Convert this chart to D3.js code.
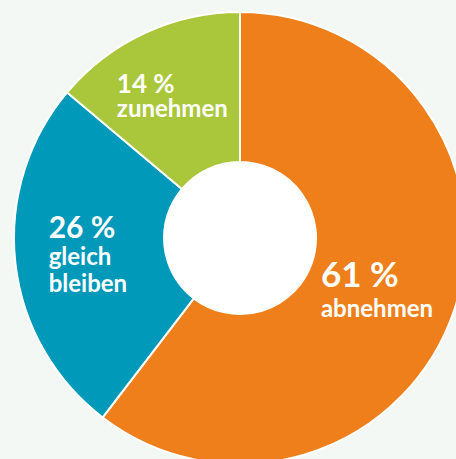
<!DOCTYPE html>
<html lang="de">
<head>
    <meta charset="UTF-8">
    <title>Donut</title>
    <style>
        html, body { margin: 0; padding: 0; background: #f4f8f5; }
        svg { display: block; }
        text { font-family: Lato, "Open Sans", sans-serif; font-weight: 700; fill: #fff; }
    </style>
</head>
<body>
    <div id="chart"></div>

    <script src="https://d3js.org/d3.v7.min.js"></script>
    <script>
        const categories = ["abnehmen", "gleich bleiben", "zunehmen"];
        const values = [61, 26, 14];
        const labelLines = [["abnehmen"], ["gleich", "bleiben"], ["zunehmen"]];
        const colors = ["#ee7f1a", "#0099b9", "#aac63a"];

        const width = 456, height = 459;
        const cx = 240, cy = 238;
        const outerR = 226, innerR = 76;

        // label styling
        const pctSizes = [35, 30, 26];
        const labelNudge = [[-6, 1], [-2, -2], [-4, -7]];

        const svg = d3.select("#chart").append("svg")
            .attr("width", width)
            .attr("height", height);

        const g = svg.append("g").attr("transform", `translate(${cx}, ${cy})`);

        const pie = d3.pie().sort(null).value(d => d);
        const arc = d3.arc().innerRadius(innerR).outerRadius(outerR);

        const arcs = pie(values);

        g.selectAll("path")
            .data(arcs)
            .enter()
            .append("path")
            .attr("d", arc)
            .attr("fill", (d, i) => colors[i])
            .attr("stroke", "#fff")
            .attr("stroke-width", 2);

        // white hole
        g.append("circle").attr("r", innerR).attr("fill", "#fff");

        arcs.forEach((d, i) => {
            const c = arc.centroid(d);
            const ps = pctSizes[i];
            const t = g.append("text");
            t.append("tspan")
                .attr("x", 0).attr("y", 0)
                .style("font-size", ps + "px")
                .text(`${d.data} %`);
            labelLines[i].forEach((line, j) => {
                t.append("tspan")
                    .attr("x", 0)
                    .attr("y", ps * 0.67 + 6.5 + j * 27)
                    .style("font-size", "24px")
                    .text(line);
            });
            const b = t.node().getBBox();
            const n = labelNudge[i];
            t.attr("transform", `translate(${c[0] - b.x - b.width / 2 + n[0]}, ${c[1] - b.y - b.height / 2 + n[1]})`);
        });
    </script>
</body>
</html>
